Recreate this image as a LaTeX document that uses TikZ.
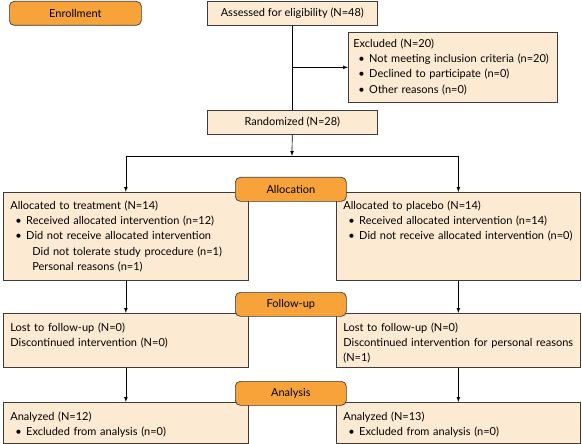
\documentclass[tikz,border=0pt]{standalone}
\usepackage{fontspec}
\setmainfont{Lato}
\usepackage{xcolor}
\definecolor{boxorange}{RGB}{247,163,58}
\definecolor{boxcream}{RGB}{253,234,210}
\definecolor{boxline}{RGB}{60,60,60}
\newcommand{\itm}{\hspace*{5pt}\textbullet\hspace{4.5pt}}
\newcommand{\subitm}{\hspace*{22pt}}

\begin{document}
\begin{tikzpicture}[x=1pt, y=-1pt, >=latex, line width=0.7pt,
  every node/.style={font=\fontsize{11}{15.3}\selectfont},
  stage/.style={draw=boxline, fill=boxorange, rounded corners=5pt, minimum width=111pt, minimum height=24pt, anchor=north west, inner sep=0pt},
  plain/.style={draw=boxline, fill=boxcream, minimum width=170pt, minimum height=24pt, anchor=north west, inner sep=0pt},
  panel/.style={draw=boxline, fill=boxcream, anchor=north west, align=left, inner xsep=7pt, inner ysep=0pt}]
\useasboundingbox (0,0) rectangle (582,444);

\node (enroll) at (9,1) [stage, minimum width=132pt] {Enrollment};
\node (assess) at (207,1) [plain] {Assessed for eligibility (N=48)};
\node (excl) at (348,32) [panel, inner xsep=5pt, text width=199pt, text height=15pt, text depth=55pt] {Excluded (N=20)\\ \itm Not meeting inclusion criteria (n=20)\\ \itm Declined to participate (n=0)\\ \itm Other reasons (n=0)};
\node (rand) at (207,110) [plain] {Randomized (N=28)};

\node (treat) at (3,192) [panel, text width=231pt, text height=17pt, text depth=71pt] {Allocated to treatment (N=14)\\ \itm Received allocated intervention (n=12)\\ \itm Did not receive allocated intervention\\ \subitm Did not tolerate study procedure (n=1)\\ \subitm Personal reasons (n=1)};
\node (plac) at (336,192) [panel, text width=230pt, text height=17pt, text depth=71pt] {Allocated to placebo (N=14)\\ \itm Received allocated intervention (n=14)\\ \itm Did not receive allocated intervention (n=0)};
\node (alloc) at (235,177) [stage] {Allocation};

\node (lostT) at (3,313) [panel, text width=231pt, text height=18pt, text depth=36pt] {Lost to follow-up (N=0)\\ Discontinued intervention (N=0)};
\node (lostP) at (336,313) [panel, text width=230pt, text height=18pt, text depth=36pt] {Lost to follow-up (N=0)\\ Discontinued intervention for personal reasons\\ (N=1)};
\node (follow) at (235,292) [stage] {Follow-up};

\node (anaT) at (3,402) [panel, text width=231pt, text height=18pt, text depth=23pt] {Analyzed (N=12)\\ \itm Excluded from analysis (n=0)};
\node (anaP) at (336,402) [panel, text width=230pt, text height=18pt, text depth=23pt] {Analyzed (N=13)\\ \itm Excluded from analysis (n=0)};
\node (anal) at (235,381) [stage] {Analysis};

\coordinate (split) at (292,156);

\draw (assess) -- (rand);
\draw[->] (assess.south |- excl.west) -- (excl.west);
\draw[->] (rand) -- (split);
\draw[->] (split) -| (treat.north);
\draw[->] (split) -| (plac.north);

\draw[->] (treat) -- (lostT);
\draw[->] (plac) -- (lostP);
\draw[->] (lostT) -- (anaT);
\draw[->] (lostP) -- (anaP);
\end{tikzpicture}
\end{document}
